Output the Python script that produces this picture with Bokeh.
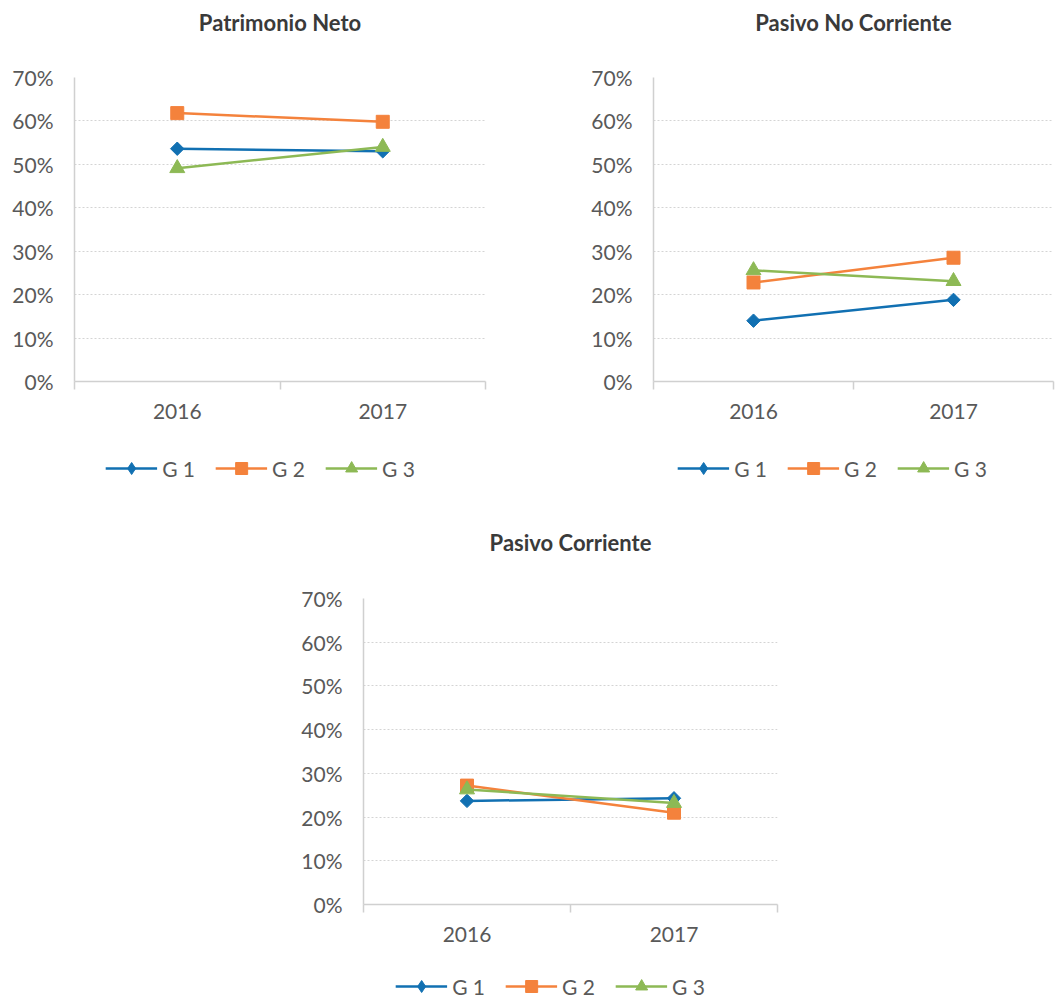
import numpy as np
from bokeh.plotting import figure
from bokeh.models import (FixedTicker, NumeralTickFormatter, Legend, LegendItem,
                          Range1d, Title, Spacer)
from bokeh.layouts import column, row
from bokeh.embed import file_html
from bokeh.resources import INLINE

# ---------------- data ----------------
categories = ["2016", "2017"]
series_names = ["G 1", "G 2", "G 3"]

pn_g1 = [0.536, 0.530]
pn_g2 = [0.618, 0.598]
pn_g3 = [0.491, 0.540]

pnc_g1 = [0.140, 0.188]
pnc_g2 = [0.228, 0.285]
pnc_g3 = [0.256, 0.231]

pc_g1 = [0.237, 0.243]
pc_g2 = [0.272, 0.210]
pc_g3 = [0.263, 0.232]

y_ticks = [0.0, 0.1, 0.2, 0.3, 0.4, 0.5, 0.6, 0.7]

# ---------------- styles ----------------
FONT = "Lato"
COLORS = ["#1170B2", "#F4823C", "#8DB955"]
# (marker in plot, size, angle, marker in legend)
MARKERS = [("square", 9.5, np.pi / 4, "diamond"),
           ("square", 13, 0.0, "square"),
           ("triangle", 15, 0.0, "triangle")]
AXIS_COLOR = "#D0D0D0"
GRID_COLOR = "#D4D4D4"
TEXT_COLOR = "#595959"
TITLE_COLOR = "#3A3A3A"


def blank_fig(width, height):
    q = figure(width=width, height=height, output_backend="svg", toolbar_location=None,
               x_range=Range1d(0, len(categories)), y_range=Range1d(0, y_ticks[-1]),
               x_axis_location=None, y_axis_location=None,
               min_border_left=0, min_border_right=0, min_border_top=0,
               min_border_bottom=0)
    q.grid.visible = False
    q.outline_line_color = None
    return q


def add_series(p, xs, vals, col, mk, sz, ang, visible=True):
    lr = p.line(xs, vals, line_color=col, line_width=2.5, visible=visible)
    sr = p.scatter(xs, vals, marker=mk, size=sz, angle=ang, fill_color=col,
                   line_color=col, visible=visible)
    return lr, sr


def make_title(text, width, height, standoff, bl, br):
    q = figure(width=width, height=height, output_backend="svg", toolbar_location=None,
               x_range=Range1d(0, 1), y_range=Range1d(0, 1),
               x_axis_location=None, y_axis_location=None,
               min_border_left=bl, min_border_right=br, min_border_top=0,
               min_border_bottom=0)
    q.grid.visible = False
    q.outline_line_color = None
    q.title = Title(text=text, align="center", text_font=FONT, text_font_size="22px",
                    text_font_style="bold", text_color=TITLE_COLOR, standoff=standoff)
    return q


def make_chart(data, width, height, bl, br, bt, bb):
    n = len(categories)
    xs = [i + 0.5 for i in range(n)]
    p = figure(width=width, height=height, output_backend="svg", toolbar_location=None,
               x_range=Range1d(0, n), y_range=Range1d(0, y_ticks[-1]),
               min_border_left=bl, min_border_right=br, min_border_top=bt,
               min_border_bottom=bb)
    p.outline_line_color = None
    p.background_fill_color = "white"
    p.border_fill_color = "white"

    xa = p.xaxis[0]
    xa.ticker = FixedTicker(ticks=xs, minor_ticks=list(range(n + 1)))
    xa.major_label_overrides = {x: c for x, c in zip(xs, categories)}
    xa.major_tick_line_color = None
    xa.major_tick_out = 0
    xa.major_tick_in = 0
    xa.minor_tick_line_color = AXIS_COLOR
    xa.minor_tick_line_width = 1.5
    xa.minor_tick_out = 8
    xa.minor_tick_in = 0
    xa.axis_line_color = AXIS_COLOR
    xa.axis_line_width = 1.5
    xa.major_label_standoff = 14
    xa.major_label_text_font = FONT
    xa.major_label_text_font_size = "21px"
    xa.major_label_text_color = TEXT_COLOR

    ya = p.yaxis[0]
    ya.ticker = FixedTicker(ticks=y_ticks)
    ya.formatter = NumeralTickFormatter(format="0%")
    ya.major_tick_line_color = None
    ya.major_tick_out = 0
    ya.major_tick_in = 0
    ya.minor_tick_line_color = None
    ya.axis_line_color = AXIS_COLOR
    ya.axis_line_width = 1.5
    ya.major_label_standoff = 21
    ya.major_label_text_font = FONT
    ya.major_label_text_font_size = "21px"
    ya.major_label_text_color = TEXT_COLOR

    p.xgrid.visible = False
    p.ygrid.ticker = FixedTicker(ticks=y_ticks[1:])
    p.ygrid.grid_line_color = GRID_COLOR
    p.ygrid.grid_line_dash = "2 2"
    p.ygrid.grid_line_width = 1

    for vals, col, (mk, sz, ang, _) in zip(data, COLORS, MARKERS):
        add_series(p, xs, vals, col, mk, sz, ang)
    return p


def make_legend(data, width, height):
    n = len(categories)
    xs = [i + 0.5 for i in range(n)]
    q = blank_fig(width, height)
    items = []
    for name, vals, col, (_, sz, _a, lmk) in zip(series_names, data, COLORS, MARKERS):
        lr, sr = add_series(q, xs, vals, col, lmk, sz, 0.0, visible=False)
        items.append(LegendItem(label=name, renderers=[lr, sr]))
    leg = Legend(items=items, location="center", orientation="horizontal",
                 border_line_color=None, background_fill_alpha=0, padding=0, margin=0,
                 glyph_width=52, glyph_height=30, label_height=20, label_standoff=5,
                 spacing=20, label_text_font=FONT, label_text_font_size="21px",
                 label_text_color=TEXT_COLOR)
    q.add_layout(leg)
    return q


d1 = [pn_g1, pn_g2, pn_g3]
d2 = [pnc_g1, pnc_g2, pnc_g3]
d3 = [pc_g1, pc_g2, pc_g3]

# top-left chart  (page x 0..528)
t1 = make_title("Patrimonio Neto", 528, 60, 12, 74, 43)
p1 = make_chart(d1, 528, 371, 74, 43, 17, 50)
l1 = make_legend(d1, 400, 74)
c1 = column(t1, p1, row(Spacer(width=60, height=74), l1, spacing=0), spacing=0)

# top-right chart (page x 528..1057)
t2 = make_title("Pasivo No Corriente", 529, 60, 12, 125, 4)
p2 = make_chart(d2, 529, 371, 125, 4, 17, 50)
l2 = make_legend(d2, 400, 74)
c2 = column(t2, p2, row(Spacer(width=104, height=74), l2, spacing=0), spacing=0)

# bottom chart (page y 505..1001)
t3 = make_title("Pasivo Corriente", 1057, 76, 42, 363, 280)
p3 = make_chart(d3, 1057, 390, 363, 280, 17, 67)
l3 = make_legend(d3, 800, 30)
c3 = column(t3, p3, row(Spacer(width=150, height=30), l3, spacing=0), spacing=0)

layout = column(row(c1, c2, spacing=0), c3, spacing=0)
open("out.html", "w").write(file_html(layout, INLINE))
